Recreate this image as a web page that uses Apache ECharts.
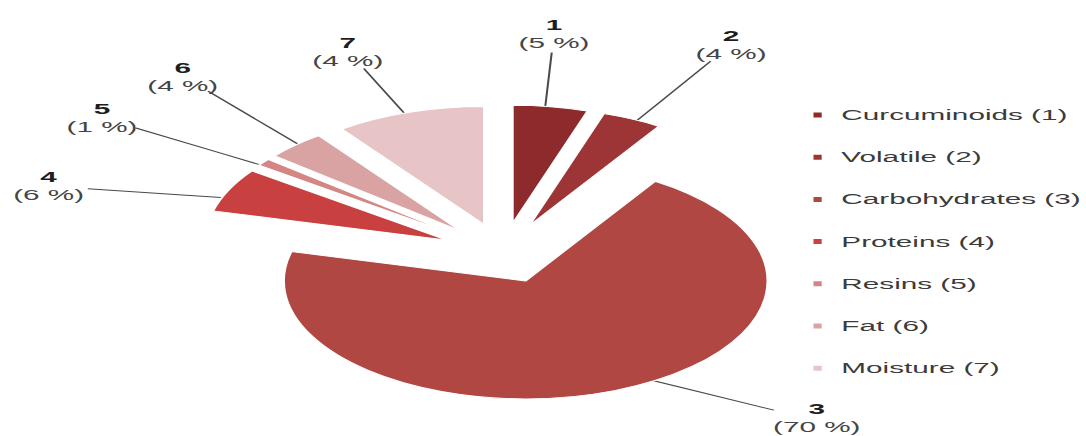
<!DOCTYPE html>
<html>
<head>
<meta charset="utf-8">
<script src="https://cdn.jsdelivr.net/npm/echarts@6/dist/echarts.min.js"></script>
<style>
html, body { margin: 0; padding: 0; background: #fff; overflow: hidden; width: 1086px; height: 436px; }
#chart { width: 530px; height: 436px; transform: scaleX(2.0491); transform-origin: 0 0; }
</style>
</head>
<body>
<div id="chart"></div>
<script>
// ---- data ----
const categories = ['Curcuminoids (1)', 'Volatile (2)', 'Carbohydrates (3)', 'Proteins (4)', 'Resins (5)', 'Fat (6)', 'Moisture (7)'];
const sliceNumbers = ['1', '2', '3', '4', '5', '6', '7'];
const sliceValues = [5, 4, 70, 6, 1, 4, 10];
const percentLabels = ['5 %', '4 %', '70 %', '6 %', '1 %', '4 %', '4 %'];

// ---- style ----
const sliceColors = ['#8c2a2c', '#9d3537', '#b04742', '#c8403f', '#d38683', '#d9a3a4', '#e7c4c6'];
const leaderLength = [81, 90, 47, 29, 82, 100, 72];
const leaderLength2 = [-8, 11, 70, 66, 18, -8, 8];
const FONT = '"Liberation Sans", Arial, Helvetica, sans-serif';

const chart = echarts.init(document.getElementById('chart'), null, { renderer: 'svg' });

const pieCenter = [245.5, 253];

const option = {
  animation: false,
  backgroundColor: '#ffffff',
  legend: {
    orient: 'vertical',
    left: 390,
    top: 102,
    itemWidth: 6,
    itemHeight: 7,
    itemGap: 26.2,
    icon: 'rect',
    selectedMode: false,
    data: categories,
    textStyle: { fontFamily: FONT, fontSize: 14.5, color: '#3b3b3b', lineHeight: 16, padding: [0, 0, 0, 3.6] }
  },
  series: [
    {
      type: 'pie',
      name: 'composition',
      center: pieCenter,
      radius: 118,
      startAngle: 90,
      clockwise: true,
      selectedMode: 'multiple',
      selectedOffset: 30,
      avoidLabelOverlap: false,
      label: { show: false },
      labelLine: { show: false },
      itemStyle: { borderColor: '#ffffff', borderWidth: 1 },
      emphasis: { disabled: true },
      select: { itemStyle: { borderColor: '#ffffff', borderWidth: 1 } },
      data: categories.map((n, i) => ({
        name: n, value: sliceValues[i], selected: true,
        itemStyle: { color: sliceColors[i] }
      }))
    },
    {
      type: 'pie',
      name: 'labels',
      center: pieCenter,
      radius: 122,
      startAngle: 90,
      clockwise: true,
      silent: true,
      avoidLabelOverlap: false,
      itemStyle: { color: 'rgba(0,0,0,0)', borderWidth: 0 },
      emphasis: { disabled: true },
      label: {
        show: true,
        position: 'outside',
        formatter: p => '{n|' + sliceNumbers[p.dataIndex] + '}\n{p|(' + percentLabels[p.dataIndex] + ')}',
        rich: {
          n: { fontFamily: FONT, fontSize: 14.5, fontWeight: 'bold', color: '#1e1e1e', lineHeight: 18, align: 'center' },
          p: { fontFamily: FONT, fontSize: 14.5, color: '#454545', lineHeight: 18, align: 'center' }
        }
      },
      labelLine: { show: true, lineStyle: { color: '#4a4a4a', width: 1 } },
      labelLayout: function (p) {
        const pts = p.labelLinePoints;
        if (!pts) return {};
        const s = pts[0], e = pts[2];
        const dx = e[0] - s[0], dy = e[1] - s[1];
        const len = Math.hypot(dx, dy) || 1;
        const ux = dx / len, uy = dy / len;
        const w = p.labelRect.width, h = p.labelRect.height;
        const g = 2;
        return {
          x: e[0] + ux * (w / 2 + g),
          y: e[1] + uy * (h / 2 + g),
          align: 'center',
          verticalAlign: 'middle',
          labelLinePoints: [s, [(s[0] + e[0]) / 2, (s[1] + e[1]) / 2], e]
        };
      },
      data: categories.map((n, i) => ({
        name: n, value: sliceValues[i],
        labelLine: { length: leaderLength[i], length2: leaderLength2[i] }
      }))
    }
  ]
};

chart.setOption(option);
</script>
</body>
</html>
